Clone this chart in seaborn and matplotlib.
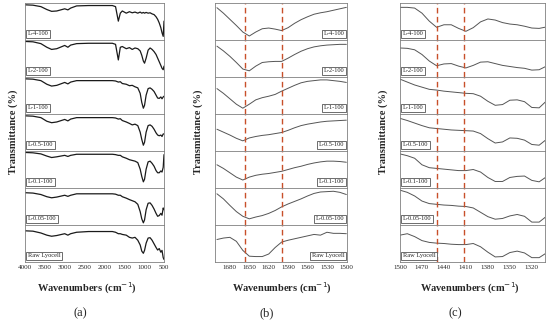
import matplotlib
matplotlib.use('Agg')
import matplotlib.pyplot as plt
import seaborn as sns

sns.set_style('white')
plt.rcParams['font.family'] = ['Liberation Serif', 'DejaVu Serif']

samples = ['L-4-100', 'L-2-100', 'L-1-100', 'L-0.5-100', 'L-0.1-100', 'L-0.05-100', 'Raw Lyocell']

# panel (a): full range
wn_a = [4000, 3800, 3600, 3450, 3330, 3200, 3000, 2920, 2850, 2700, 2400, 2000, 1800, 1720, 1650,
        1600, 1550, 1450, 1370, 1300, 1230, 1160, 1100, 1060, 1020, 990, 950, 900, 850, 800, 750,
        700, 660, 620, 580, 550, 520, 500]
t_a_l4 = [0.95, 0.94, 0.9, 0.82, 0.77, 0.78, 0.84, 0.81, 0.86, 0.92, 0.93, 0.93, 0.93, 0.9, 0.5,
          0.72, 0.78, 0.72, 0.76, 0.73, 0.75, 0.72, 0.75, 0.72, 0.74, 0.72, 0.74, 0.72, 0.73, 0.7,
          0.68, 0.62, 0.55, 0.45, 0.32, 0.18, 0.08, 0.5]
t_a_l2 = [0.96, 0.95, 0.9, 0.8, 0.74, 0.76, 0.85, 0.8, 0.86, 0.9, 0.91, 0.91, 0.91, 0.88, 0.45,
          0.8, 0.82, 0.76, 0.79, 0.74, 0.78, 0.76, 0.7, 0.58, 0.42, 0.36, 0.5, 0.72, 0.78, 0.74,
          0.68, 0.6, 0.5, 0.4, 0.3, 0.22, 0.18, 0.28]
t_a_l1 = [0.95, 0.94, 0.9, 0.8, 0.75, 0.77, 0.85, 0.81, 0.86, 0.9, 0.9, 0.9, 0.9, 0.89, 0.86,
          0.87, 0.82, 0.8, 0.76, 0.77, 0.73, 0.7, 0.55, 0.3, 0.14, 0.22, 0.5, 0.68, 0.7, 0.66,
          0.6, 0.5, 0.42, 0.41, 0.45, 0.4, 0.45, 0.47]
t_a_l05 = [0.95, 0.94, 0.9, 0.8, 0.76, 0.78, 0.85, 0.81, 0.86, 0.9, 0.9, 0.9, 0.9, 0.89, 0.86,
           0.87, 0.82, 0.78, 0.74, 0.7, 0.72, 0.68, 0.5, 0.3, 0.14, 0.22, 0.5, 0.68, 0.7, 0.66,
           0.58, 0.48, 0.42, 0.4, 0.42, 0.38, 0.45, 0.45]
t_a_l01 = [0.96, 0.95, 0.92, 0.86, 0.82, 0.84, 0.88, 0.85, 0.88, 0.91, 0.91, 0.91, 0.91, 0.9, 0.88,
           0.88, 0.84, 0.8, 0.76, 0.74, 0.72, 0.68, 0.5, 0.3, 0.15, 0.22, 0.5, 0.7, 0.72, 0.66,
           0.58, 0.46, 0.4, 0.4, 0.45, 0.42, 0.55, 0.9]
t_a_l005 = [0.87, 0.86, 0.82, 0.76, 0.73, 0.75, 0.8, 0.77, 0.8, 0.84, 0.84, 0.84, 0.84, 0.83, 0.8,
            0.8, 0.76, 0.72, 0.68, 0.65, 0.62, 0.55, 0.35, 0.15, 0.04, 0.12, 0.4, 0.58, 0.59, 0.52,
            0.42, 0.3, 0.22, 0.24, 0.3, 0.25, 0.45, 0.4]
t_a_raw = [0.84, 0.83, 0.78, 0.72, 0.69, 0.71, 0.76, 0.72, 0.76, 0.8, 0.82, 0.82, 0.82, 0.8, 0.76,
           0.76, 0.74, 0.72, 0.66, 0.64, 0.66, 0.58, 0.45, 0.28, 0.22, 0.3, 0.5, 0.64, 0.65, 0.58,
           0.48, 0.38, 0.31, 0.35, 0.25, 0.3, 0.1, 0.05]

# panel (b): 1700-1500
wn_b = [1700, 1690, 1680, 1670, 1660, 1650, 1640, 1630, 1620, 1610, 1600, 1590, 1580, 1570, 1560,
        1550, 1540, 1530, 1520, 1510, 1500]
t_b_l4 = [0.87, 0.72, 0.55, 0.38, 0.2, 0.09, 0.2, 0.29, 0.31, 0.28, 0.24, 0.32, 0.44, 0.54, 0.62,
          0.69, 0.73, 0.76, 0.8, 0.84, 0.88]
t_b_l2 = [0.83, 0.7, 0.55, 0.38, 0.2, 0.15, 0.28, 0.38, 0.4, 0.41, 0.41, 0.5, 0.6, 0.69, 0.76,
          0.81, 0.84, 0.86, 0.87, 0.88, 0.88]
t_b_l1 = [0.68, 0.55, 0.4, 0.25, 0.14, 0.25, 0.37, 0.43, 0.47, 0.52, 0.61, 0.69, 0.77, 0.84, 0.88,
          0.9, 0.92, 0.92, 0.9, 0.88, 0.85]
t_b_l05 = [0.58, 0.5, 0.42, 0.33, 0.26, 0.34, 0.38, 0.41, 0.43, 0.46, 0.49, 0.55, 0.62, 0.68, 0.72,
           0.75, 0.78, 0.8, 0.81, 0.82, 0.83]
t_b_l01 = [0.62, 0.52, 0.4, 0.28, 0.2, 0.28, 0.33, 0.36, 0.38, 0.41, 0.44, 0.49, 0.54, 0.58, 0.63,
           0.67, 0.7, 0.72, 0.72, 0.71, 0.69]
t_b_l005 = [0.84, 0.7, 0.52, 0.35, 0.22, 0.15, 0.2, 0.24, 0.3, 0.38, 0.48, 0.56, 0.63, 0.7, 0.78,
            0.85, 0.89, 0.9, 0.91, 0.88, 0.82]
t_b_raw = [0.6, 0.64, 0.66, 0.55, 0.3, 0.14, 0.13, 0.13, 0.2, 0.38, 0.53, 0.58, 0.62, 0.66, 0.7,
           0.74, 0.72, 0.8, 0.77, 0.77, 0.76]

# panel (c): 1500-1300
wn_c = [1500, 1490, 1480, 1470, 1460, 1450, 1440, 1430, 1420, 1410, 1400, 1390, 1380, 1370, 1360,
        1350, 1340, 1330, 1320, 1310, 1300]
t_c_l4 = [0.88, 0.88, 0.86, 0.72, 0.5, 0.33, 0.4, 0.4, 0.3, 0.22, 0.32, 0.48, 0.56, 0.53, 0.46,
          0.42, 0.4, 0.36, 0.31, 0.3, 0.34]
t_c_l2 = [0.78, 0.77, 0.73, 0.6, 0.42, 0.29, 0.34, 0.35, 0.28, 0.23, 0.3, 0.39, 0.4, 0.35, 0.3,
          0.27, 0.24, 0.22, 0.17, 0.18, 0.28]
t_c_l1 = [0.94, 0.86, 0.78, 0.72, 0.66, 0.64, 0.61, 0.59, 0.57, 0.55, 0.54, 0.47, 0.33, 0.22, 0.24,
          0.36, 0.37, 0.32, 0.16, 0.15, 0.34]
t_c_l05 = [0.88, 0.82, 0.75, 0.68, 0.62, 0.6, 0.58, 0.56, 0.55, 0.54, 0.53, 0.46, 0.32, 0.2, 0.23,
           0.34, 0.33, 0.28, 0.16, 0.14, 0.3]
t_c_l01 = [0.92, 0.87, 0.8, 0.62, 0.54, 0.52, 0.5, 0.48, 0.46, 0.46, 0.49, 0.42, 0.27, 0.16, 0.16,
           0.27, 0.3, 0.31, 0.19, 0.15, 0.29]
t_c_l005 = [0.94, 0.88, 0.78, 0.64, 0.57, 0.55, 0.53, 0.52, 0.5, 0.49, 0.45, 0.33, 0.21, 0.14, 0.16,
            0.23, 0.27, 0.22, 0.06, 0.06, 0.22]
t_c_raw = [0.72, 0.76, 0.68, 0.57, 0.52, 0.5, 0.49, 0.47, 0.46, 0.46, 0.49, 0.4, 0.25, 0.12, 0.13,
           0.24, 0.28, 0.23, 0.1, 0.1, 0.23]

ticks_a = [4000, 3500, 3000, 2500, 2000, 1500, 1000, 500]
ticks_b = [1680, 1650, 1620, 1590, 1560, 1530, 1500]
ticks_c = [1500, 1470, 1440, 1410, 1380, 1350, 1320]
marks_b = [1657, 1599]
marks_c = [1450, 1412]

panels = [
    dict(wn=wn_a, ys=[t_a_l4, t_a_l2, t_a_l1, t_a_l05, t_a_l01, t_a_l005, t_a_raw],
         lim=(4000, 500), ticks=ticks_a, minor=250, marks=[], left=25, right=164,
         lab_x=0.02, lab_ha='left', xl=87, tag='(a)', tag_x=80, yl=13, lw=0.9, col='#1a1a1a'),
    dict(wn=wn_b, ys=[t_b_l4, t_b_l2, t_b_l1, t_b_l05, t_b_l01, t_b_l005, t_b_raw],
         lim=(1703, 1499), ticks=ticks_b, minor=10, marks=marks_b, left=215, right=347,
         lab_x=0.98, lab_ha='right', xl=282, tag='(b)', tag_x=267, yl=198, lw=0.7, col='#555555'),
    dict(wn=wn_c, ys=[t_c_l4, t_c_l2, t_c_l1, t_c_l05, t_c_l01, t_c_l005, t_c_raw],
         lim=(1500, 1302), ticks=ticks_c, minor=10, marks=marks_c, left=400, right=545,
         lab_x=0.02, lab_ha='left', xl=470, tag='(c)', tag_x=455, yl=383, lw=0.7, col='#555555'),
]

W, H = 550, 324
top_px, bot_px = 3, 262
fig = plt.figure(figsize=(5.5, 3.24), dpi=100)
h = (bot_px - top_px) / 7 / H

for p in panels:
    x0 = p['left'] / W
    w = (p['right'] - p['left']) / W
    for i, (name, ys) in enumerate(zip(samples, p['ys'])):
        y0 = 1 - (top_px / H) - (i + 1) * h
        ax = fig.add_axes([x0, y0, w, h])
        sns.lineplot(x=p['wn'], y=ys, ax=ax, color=p['col'], lw=p['lw'])
        for m in p['marks']:
            ax.axvline(m, color='#c8502a', lw=1.0, ls=(0, (4, 2.5)))
        ax.set_xlim(*p['lim'])
        ax.set_ylim(-0.02, 1.0)
        ax.set_yticks([])
        ax.set_ylabel('')
        for s in ax.spines.values():
            s.set_color('#808080')
            s.set_linewidth(0.6)
        ax.text(p['lab_x'], 0.1, name, transform=ax.transAxes, ha=p['lab_ha'], va='bottom',
                fontsize=4.6, bbox=dict(boxstyle='square,pad=0.25', fc='white', ec='#555555', lw=0.6))
        if i < 6:
            ax.set_xticks([])
        else:
            ax.set_xticks(p['ticks'])
            ax.set_xticks(range(min(p['ticks']), max(p['ticks']) + 1, p['minor']), minor=True)
            ax.tick_params(axis='x', which='major', direction='in', length=2.5, width=0.5,
                           labelsize=5, pad=2, color='#555555')
            ax.tick_params(axis='x', which='minor', direction='in', length=1.3, width=0.4,
                           color='#555555')
    fig.text(p['xl'] / W, 1 - 288 / H, 'Wavenumbers (cm$^{-1}$)', ha='center', va='center',
             fontsize=7.5, fontweight='bold')
    fig.text(p['tag_x'] / W, 1 - 313 / H, p['tag'], ha='center', va='center', fontsize=9)
    fig.text(p['yl'] / W, 1 - 132 / H, 'Transmittance (%)', ha='center', va='center',
             rotation=90, fontsize=7.5, fontweight='bold')

fig.savefig('out.png', dpi=100)
